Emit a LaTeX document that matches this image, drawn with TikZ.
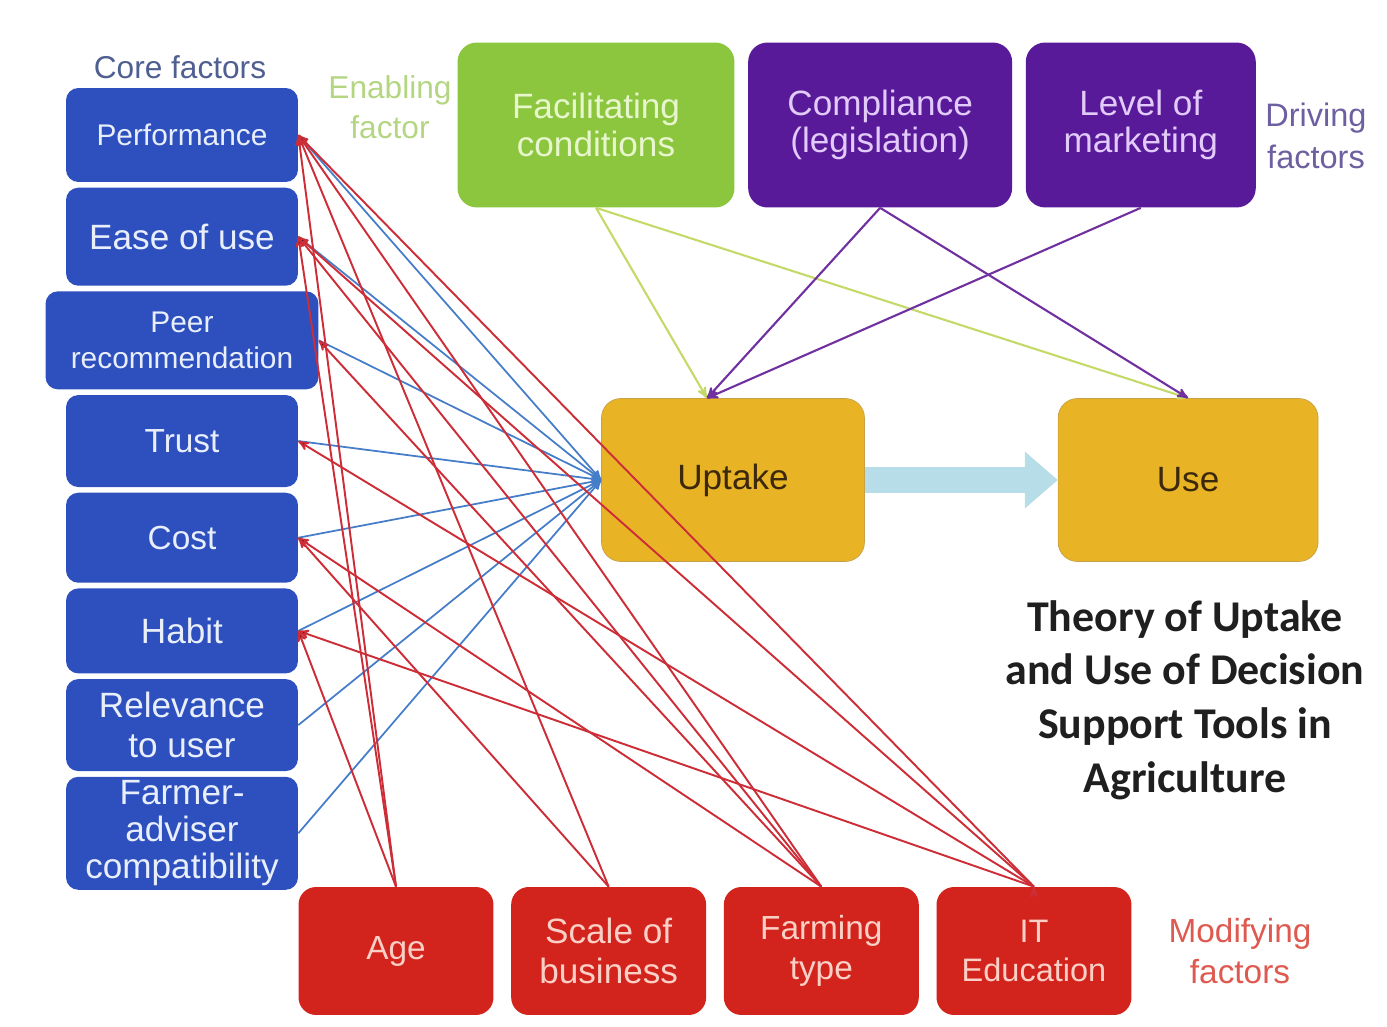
\documentclass[tikz,border=0pt]{standalone}
\usepackage{fontspec}
\setmainfont{Liberation Sans}
\newfontfamily\titlefont{Carlito}
\usetikzlibrary{arrows,arrows.meta,positioning}
\definecolor{coreblue}{RGB}{45,80,190}
\definecolor{coretext}{RGB}{232,238,250}
\definecolor{corelbl}{RGB}{80,95,145}
\definecolor{enablegreen}{RGB}{140,198,63}
\definecolor{enabletext}{RGB}{232,246,205}
\definecolor{enablelbl}{RGB}{180,214,130}
\definecolor{drivepurple}{RGB}{88,26,152}
\definecolor{drivetext}{RGB}{226,202,250}
\definecolor{drivelbl}{RGB}{110,95,160}
\definecolor{outgold}{RGB}{232,180,38}
\definecolor{outedge}{RGB}{200,160,70}
\definecolor{outtext}{RGB}{60,40,10}
\definecolor{modred}{RGB}{210,35,28}
\definecolor{modtext}{RGB}{250,208,198}
\definecolor{modlbl}{RGB}{222,90,80}
\definecolor{linkblue}{RGB}{70,125,200}
\definecolor{linkred}{RGB}{205,45,55}
\definecolor{linkgreen}{RGB}{195,218,105}
\definecolor{linkpurple}{RGB}{112,48,160}
\definecolor{arrowblue}{RGB}{183,221,232}
\tikzset{
    %Define standard arrow tip
    >=stealth',
    %Define styles for boxes
    corerect/.style={
           rectangle,
           rounded corners=7pt,
           fill=coreblue,
           text=coretext,
           minimum width=4.64cm,
           inner sep=1pt,
           font=\fontsize{19}{22}\selectfont,
           align=center},
    enablerect/.style={
           rectangle,
           rounded corners=11pt,
           fill=enablegreen,
           text=enabletext,
           minimum width=5.54cm,
           minimum height=3.3cm,
           font=\fontsize{20}{21.5}\selectfont,
           align=center},
    driverect/.style={
           enablerect,
           fill=drivepurple,
           text=drivetext},
    outcomerect/.style={
           rectangle,
           rounded corners=11pt,
           draw=outedge, thin,
           fill=outgold,
           text=outtext,
           minimum width=5.26cm,
           minimum height=3.26cm,
           font=\fontsize{20}{22}\selectfont,
           align=center},
    modrect/.style={
           rectangle,
           rounded corners=10pt,
           fill=modred,
           text=modtext,
           minimum width=3.9cm,
           minimum height=2.56cm,
           font=\fontsize{19}{22.7}\selectfont,
           align=center},
    lbl/.style={
           font=\fontsize{18}{23}\selectfont,
           align=center},
    % Define arrow styles
    bluepil/.style={->, draw=linkblue, line width=1pt},
    redpil/.style={->, draw=linkred, line width=1.1pt},
    greenpil/.style={->, draw=linkgreen, line width=1.2pt},
    purplepil/.style={->, draw=linkpurple, line width=1.2pt},
    bigarrow/.style={draw=arrowblue, line width=0.54cm,
           -{Triangle[length=0.66cm,width=1.1cm]}}
}
\begin{document}
\begin{tikzpicture}[x=0.02cm,y=-0.02cm,node distance=0.1cm]
\useasboundingbox (0,0) rectangle (1387,1027);
% core factors
\node[corerect, minimum height=1.88cm, font=\fontsize{17}{20}\selectfont] (c1) at (182,135) {Performance};
\node[corerect, minimum height=1.96cm, font=\fontsize{20}{22}\selectfont, below=of c1] (c2) {Ease of use};
\node[corerect, minimum height=1.96cm, minimum width=5.46cm, font=\fontsize{17}{20}\selectfont, below=of c2] (c3) {Peer\\recommendation};
\node[corerect, minimum height=1.84cm, below=of c3] (c4) {Trust};
\node[corerect, minimum height=1.8cm, below=of c4] (c5) {Cost};
\node[corerect, minimum height=1.7cm, font=\fontsize{20}{22}\selectfont, below=of c5] (c6) {Habit};
\node[corerect, minimum height=1.84cm, font=\fontsize{20}{22.7}\selectfont, below=of c6] (c7) {Relevance\\to user};
\node[corerect, minimum height=2.26cm, font=\fontsize{20}{21}\selectfont, below=of c7] (c8) {Farmer-\\adviser\\compatibility};
% enabling and driving factors
\node[enablerect] (t1) at (596,125) {Facilitating\\conditions};
\node[driverect, minimum width=5.28cm, right=0.26cm of t1] (t2) {Compliance\\(legislation)};
\node[driverect, minimum width=4.6cm, right=0.26cm of t2] (t3) {Level of\\marketing};
% uptake and use
\node[outcomerect] (up) at (733,480) {Uptake};
\node[outcomerect, minimum width=5.2cm, right=3.86cm of up] (use) {Use};
\coordinate (upin) at ([xshift=-0.52cm]up.north);
% modifying factors
\node[modrect, font=\fontsize{19}{22}\selectfont] (m1) at (396,951) {Age};
\node[modrect, font=\fontsize{20}{22.7}\selectfont, right=0.34cm of m1] (m2) {Scale of\\business};
\node[modrect, right=0.34cm of m2] (m3) {Farming\\type};
\node[modrect, font=\fontsize{18.5}{22.7}\selectfont, right=0.34cm of m3] (m4) {IT\\Education};
% labels
\node[lbl, text=corelbl] (lc) at (180,67) {Core factors};
\node[lbl, text=enablelbl] (le) at (390,107) {Enabling\\factor};
\node[lbl, text=drivelbl, font=\fontsize{18.5}{23.5}\selectfont] (ld) at (1316,136) {Driving\\factors};
\node[lbl, text=modlbl, font=\fontsize{19}{23.5}\selectfont] (lm) at (1240,951) {Modifying\\factors};
\node[align=center, text=black!88, font=\titlefont\bfseries\fontsize{25}{30.6}\selectfont] (title) at (1185,700) {Theory of Uptake\\and Use of Decision\\Support Tools in\\Agriculture};
% connectors
\draw[bigarrow] (up.east) -- (use.west);
\foreach \i in {1,...,8}
    \draw[bluepil] (c\i.east) -- (up.west);
\draw[greenpil] (t1.south) -- (upin);
\draw[greenpil] (t1.south) -- (use.north);
\draw[purplepil] (t2.south) -- (upin);
\draw[purplepil] (t2.south) -- (use.north);
\draw[purplepil] (t3.south) -- (upin);
\path[redpil]
	(m1.north) edge (c1.east) edge (c2.east) edge (c6.east)
	(m2.north) edge (c1.east) edge (c5.east)
	(m3.north) edge (c1.east) edge (c2.east) edge (c3.east) edge (c5.east)
	(m4.north) edge (c1.east) edge (c2.east) edge (c4.east) edge (c6.east);
\end{tikzpicture}
\end{document}
